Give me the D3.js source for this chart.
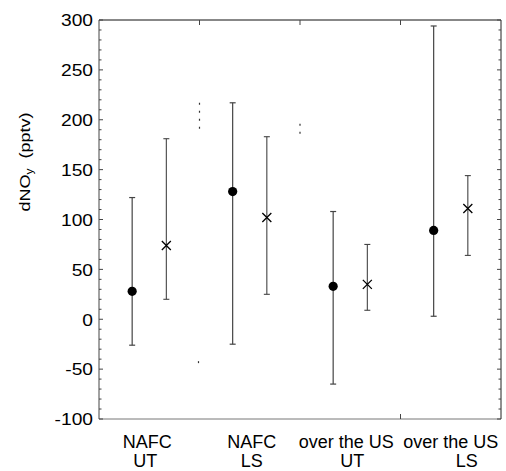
<!DOCTYPE html>
<html>
<head>
<meta charset="utf-8">
<script src="https://cdn.jsdelivr.net/npm/d3@7"></script>
<style>
  body { margin: 0; background: #fff; }
  svg { display: block; font-family: "Liberation Sans", Arial, sans-serif; }
</style>
</head>
<body>
<svg id="chart"></svg>
<script>
// categories and the two series (dots and crosses)
var categories = ["NAFC UT", "NAFC LS", "over the US UT", "over the US LS"];
var labelTop = ["NAFC", "NAFC", "over the US", "over the US"];
var labelBottom = ["UT", "LS", "UT", "LS"];

var dotMean = [28, 128, 33, 89];
var dotLow  = [-26, -25, -65, 3];
var dotHigh = [122, 217, 108, 294];

var crossMean = [74, 102, 35, 111];
var crossLow  = [20, 25, 9, 64];
var crossHigh = [181, 183, 75, 144];

var yTicks = [-100, -50, 0, 50, 100, 150, 200, 250, 300];

var width = 506,
    height = 471,
    margin = {top: 20, right: 5, bottom: 52, left: 99};

var svg = d3.select("#chart")
    .attr("width", width)
    .attr("height", height);

var x = d3.scaleLinear().domain([0, 4]).range([margin.left, width - margin.right]);
var y = d3.scaleLinear().domain([-100, 300]).range([height - margin.bottom, margin.top]);

// minor ticks every 10, inward on both sides
var minor = d3.range(-100, 301, 10);
var yAxisL = d3.axisLeft(y).tickValues(yTicks).tickSize(0).tickPadding(7)
    .tickFormat(function(d) { return String(d); });   // plain hyphen, like the original

var frame = svg.append("g");
frame.append("line").attr("x1", x(0)).attr("x2", x(4)).attr("y1", y(300)).attr("y2", y(300)).attr("stroke", "#111");
frame.append("line").attr("x1", x(0)).attr("x2", x(4)).attr("y1", y(-100)).attr("y2", y(-100)).attr("stroke", "#777");
frame.append("line").attr("x1", x(0)).attr("x2", x(0)).attr("y1", y(300)).attr("y2", y(-100)).attr("stroke", "#444");
frame.append("line").attr("x1", x(4)).attr("x2", x(4)).attr("y1", y(300)).attr("y2", y(-100)).attr("stroke", "#222");

var ticks = svg.append("g").attr("stroke", "#444");
minor.forEach(function(v) {
  var len = (v % 50 === 0) ? 4 : 2.5;
  ticks.append("line").attr("x1", x(0)).attr("x2", x(0) + len).attr("y1", y(v)).attr("y2", y(v));
  ticks.append("line").attr("x1", x(4)).attr("x2", x(4) - len).attr("y1", y(v)).attr("y2", y(v));
});
[1, 2, 3].forEach(function(t) {
  ticks.append("line").attr("x1", x(t)).attr("x2", x(t)).attr("y1", y(300)).attr("y2", y(300) + 5);
});
ticks.append("line").attr("x1", x(3)).attr("x2", x(3)).attr("y1", y(-100)).attr("y2", y(-100) - 5);

// y tick labels
var yg = svg.append("g")
    .attr("transform", "translate(" + margin.left + ",0)")
    .call(yAxisL);
yg.select(".domain").remove();
yg.selectAll("text")
    .attr("x", 0)
    .attr("dy", "0.36em")
    .style("font-size", "16px")
    .style("fill", "#000")
    .attr("transform", "translate(-6,0) scale(1.2,1)");

// left-over dotted grid traces from the original
var traces = [[1, 190, 217], [2, 184, 196], [0.99, -44, -42]];
traces.forEach(function(t) {
  svg.append("line")
    .attr("x1", x(t[0])).attr("x2", x(t[0]))
    .attr("y1", y(t[2])).attr("y2", y(t[1]))
    .attr("stroke", "#333")
    .attr("stroke-width", 1.2)
    .attr("stroke-dasharray", "2,6");
});

// error bars
function errBars(xs, lo, hi, color, w) {
  var g = svg.append("g").attr("stroke", color).attr("stroke-width", w);
  categories.forEach(function(c, i) {
    var cx = x(i + xs);
    g.append("line").attr("x1", cx).attr("x2", cx).attr("y1", y(lo[i])).attr("y2", y(hi[i]));
    g.append("line").attr("x1", cx - 3).attr("x2", cx + 3).attr("y1", y(lo[i])).attr("y2", y(lo[i]));
    g.append("line").attr("x1", cx - 3).attr("x2", cx + 3).attr("y1", y(hi[i])).attr("y2", y(hi[i]));
  });
}
errBars(0.33, dotLow, dotHigh, "#444", 1.2);
errBars(0.67, crossLow, crossHigh, "#444", 1.1);

// dots
svg.append("g").selectAll("circle")
    .data(dotMean)
    .enter().append("circle")
    .attr("cx", function(d, i) { return x(i + 0.33); })
    .attr("cy", function(d) { return y(d); })
    .attr("r", 4.6)
    .attr("fill", "#000");

// crosses
var s = 4.5;
svg.append("g").selectAll("path")
    .data(crossMean)
    .enter().append("path")
    .attr("d", function(d, i) {
      var cx = x(i + 0.67), cy = y(d);
      return "M" + (cx - s) + "," + (cy - s) + "L" + (cx + s) + "," + (cy + s) +
             "M" + (cx - s) + "," + (cy + s) + "L" + (cx + s) + "," + (cy - s);
    })
    .attr("stroke", "#000")
    .attr("stroke-width", 1.3)
    .attr("fill", "none");

// category labels, two lines
var lab = svg.append("g").style("font-size", "18px").attr("text-anchor", "middle").attr("fill", "#000");
var topShift = [-2, 2, -4, 0];
var botShift = [-4, 2, 2, 16];
categories.forEach(function(c, i) {
  lab.append("text").attr("x", x(i + 0.5) + topShift[i]).attr("y", 448).text(labelTop[i]);
  lab.append("text").attr("x", x(i + 0.5) + botShift[i]).attr("y", 467).text(labelBottom[i]);
});

// y axis title
var yt = svg.append("text")
    .attr("transform", "translate(30,162) rotate(-90) scale(1.2,1)")
    .attr("text-anchor", "middle")
    .style("font-size", "15px")
    .attr("fill", "#000");
yt.append("tspan").text("dNO");
yt.append("tspan").attr("dy", 3).style("font-size", "10px").text("y");
yt.append("tspan").attr("dy", -3).text("\u00a0\u00a0(pptv)");
</script>
</body>
</html>
